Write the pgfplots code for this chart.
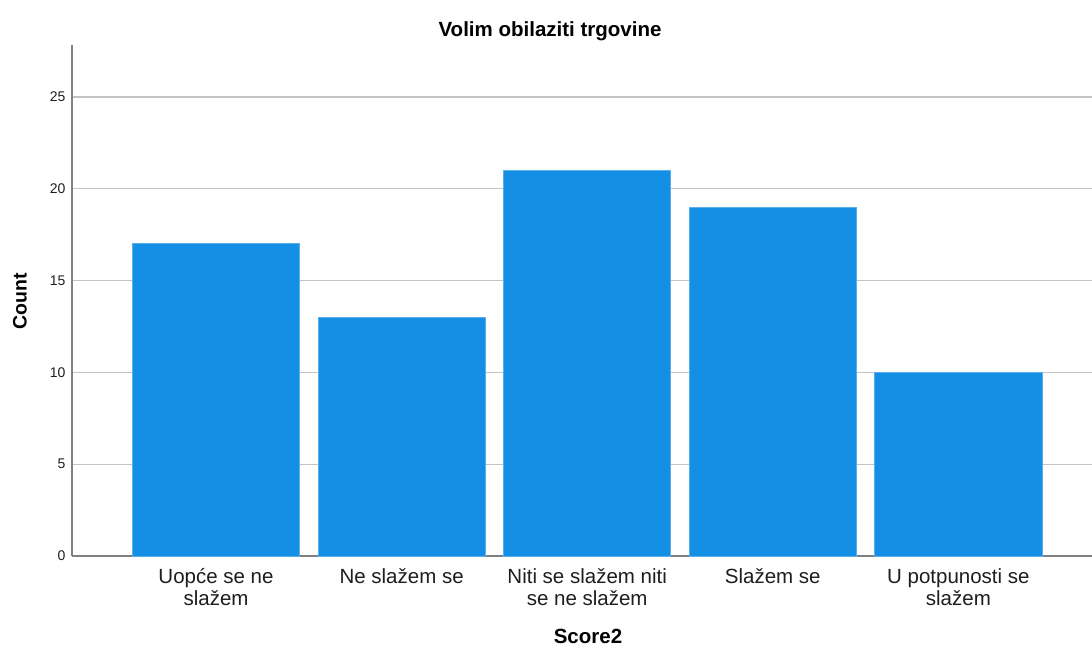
\documentclass[border=0pt]{standalone}
\usepackage{fontspec}
\setmainfont{Liberation Sans}
\usepackage{pgfplots}
\pgfplotsset{compat=1.18}
\definecolor{barblue}{RGB}{19,144,230}
\definecolor{baredge}{RGB}{90,175,235}
\definecolor{axgray}{RGB}{128,128,128}
\definecolor{gridgray}{RGB}{195,195,195}
\definecolor{txt}{RGB}{30,30,30}
\begin{document}
\begin{tikzpicture}[x=1pt,y=1pt]
\path[use as bounding box] (0,0) rectangle (1092,648);
\begin{axis}[
  at={(72pt,92pt)}, anchor=south west,
  scale only axis, width=1020pt, height=511pt,
  xmin=-0.776, xmax=4.72, ymin=0, ymax=27.83,
  axis x line*=bottom, axis y line*=left,
  axis line style={axgray, line width=1.5pt},
  ytick={0,5,10,15,20,25},
  xtick={0,1,2,3,4},
  xticklabels={{Uopće se ne\\slažem},{Ne slažem se},{Niti se slažem niti\\se ne slažem},{Slažem se},{U potpunosti se\\slažem}},
  major tick length=0pt,
  ymajorgrids, grid style={gridgray, line width=1.3pt},
  /pgf/number format/assume math mode=true,
  yticklabel style={font=\fontsize{14}{16}\selectfont, xshift=-3pt, text=txt},
  xticklabel style={font=\fontsize{20.5}{22}\selectfont, align=center, yshift=-9pt, text=txt},
  ybar, bar width=0.9,
]
\addplot[fill=barblue, draw=baredge, line width=0.8pt] coordinates {(0,17) (1,13) (2,21) (3,19) (4,10)};
\end{axis}
\node[font=\bfseries\fontsize{20.5}{22}\selectfont] at (550,617) {Volim obilaziti trgovine};
\node[font=\bfseries\fontsize{19.5}{21}\selectfont, rotate=90] at (20,347) {Count};
\node[font=\bfseries\fontsize{20.5}{22}\selectfont, inner sep=1pt] at (588,12) {Score2};
\end{tikzpicture}
\end{document}
